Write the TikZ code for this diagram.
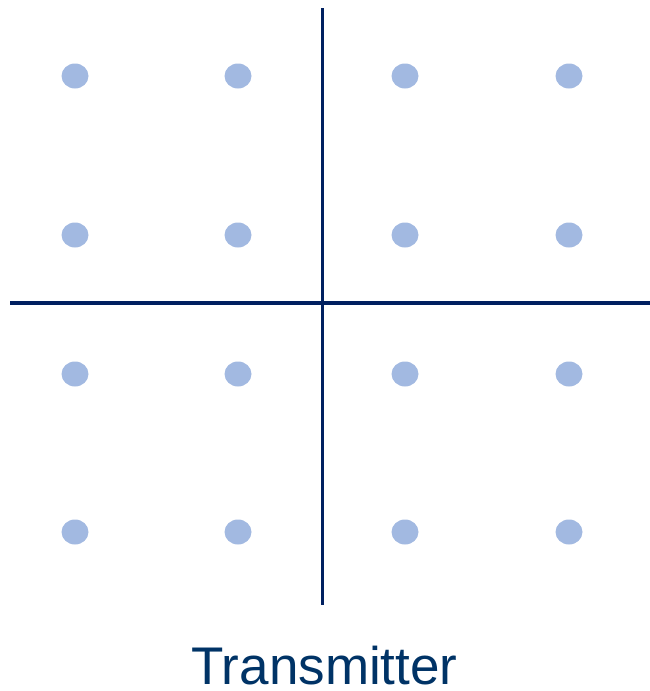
\documentclass[tikz,border=0pt]{standalone}
\usepackage{fontspec}
\setmainfont{Liberation Sans}
\usetikzlibrary{positioning,calc,shapes.geometric}

\definecolor{axisblue}{HTML}{002060}
\definecolor{dotblue}{HTML}{A2B9E1}
\definecolor{textblue}{HTML}{003366}

\begin{document}
\begin{tikzpicture}[
    x=1pt, y=-1pt,
    symbol/.style={ellipse, fill=dotblue, inner sep=0pt, minimum width=27pt, minimum height=25pt},
    axis/.style={axisblue, line width=3.2pt}
]
    % --- bounding box ---
    \useasboundingbox (0,0) rectangle (650,691);

    % --- axes ---
    \coordinate (Xl) at (10,303);
    \coordinate (Xr) at (650,303);
    \coordinate (Yt) at (322.5,8);
    \coordinate (Yb) at (322.5,605);
    \draw[axis] (Xl) -- (Xr);
    \draw[axis] (Yt) -- (Yb);

    % --- constellation points ---
    \foreach \col/\x in {1/75,2/238,3/405,4/569} {
        \foreach \row/\y in {1/76,2/235,3/374,4/532} {
            \node[symbol] (s\row\col) at (\x,\y) {};
        }
    }

    % --- label ---
    \node[textblue, font=\fontsize{53}{60}\selectfont, anchor=base, inner sep=0pt, text depth=0pt] (title) at (324.5,684) {Transmitter};
\end{tikzpicture}
\end{document}
